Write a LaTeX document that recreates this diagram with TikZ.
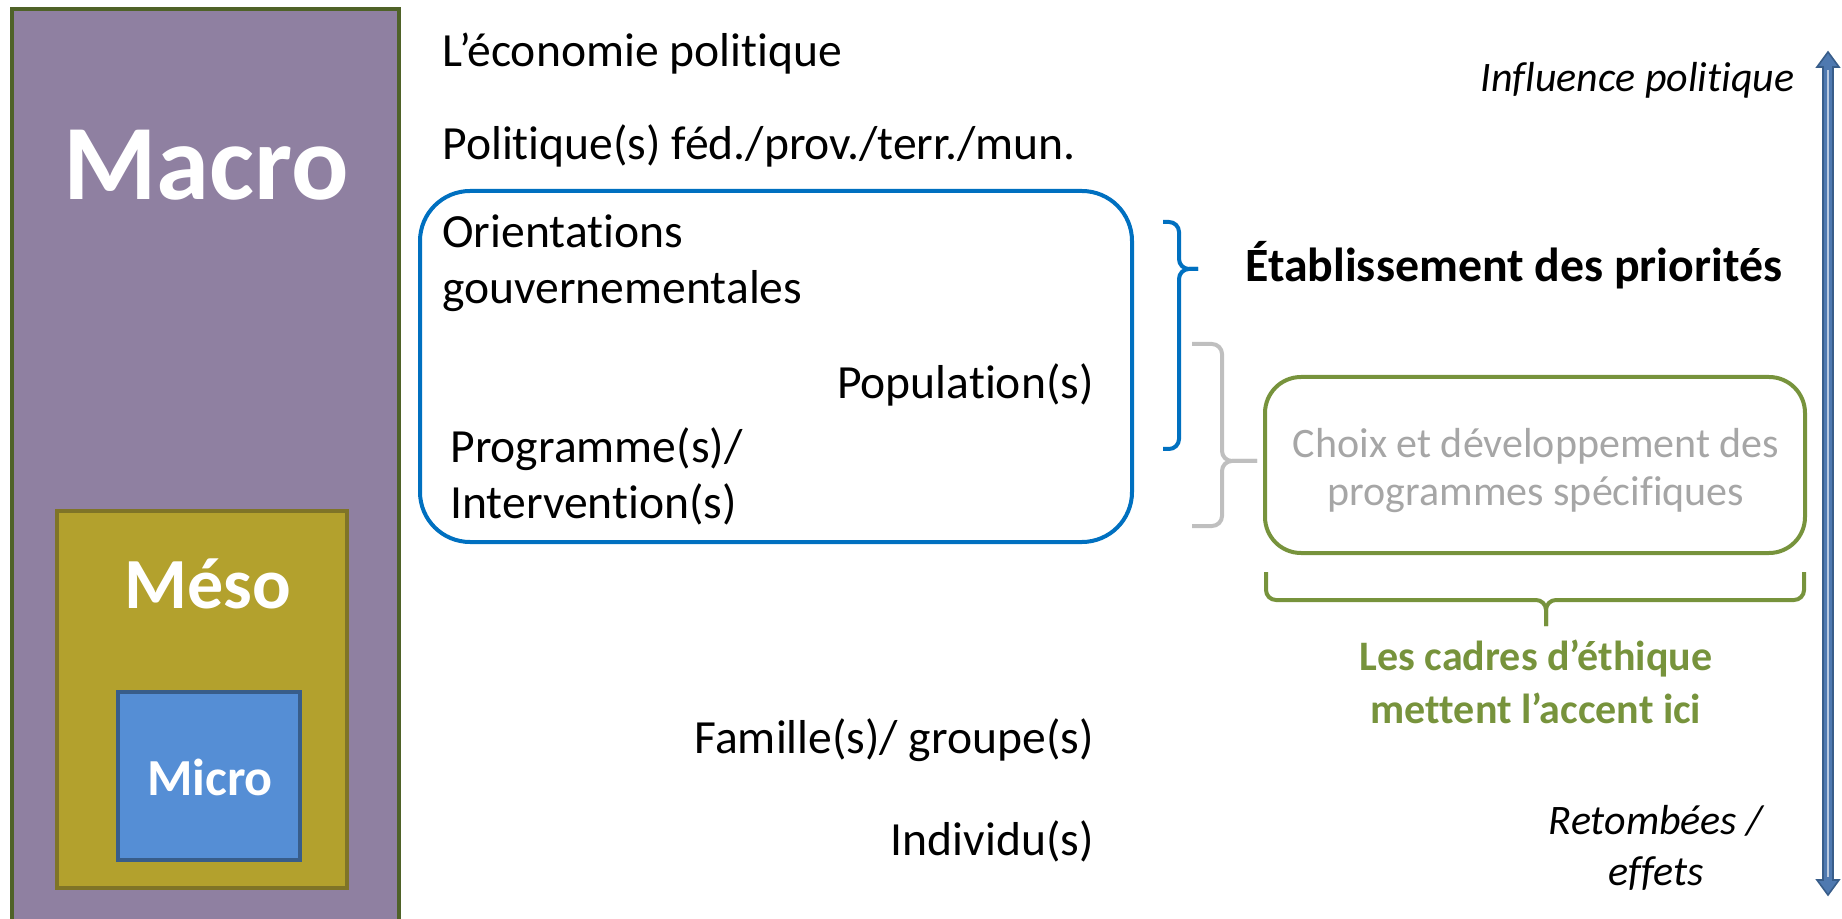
\documentclass[tikz,border=0pt]{standalone}
\usepackage{fontspec}
\setmainfont{Carlito}[Ligatures={NoCommon}]
\usepackage{xcolor}
\usepackage{tikz}
\usetikzlibrary{calc}

\definecolor{macrofill}{HTML}{8F80A1}
\definecolor{macroline}{HTML}{4F6228}
\definecolor{mesofill}{HTML}{B3A12D}
\definecolor{mesoline}{HTML}{7F7427}
\definecolor{microfill}{HTML}{558ED5}
\definecolor{microline}{HTML}{385D8A}
\definecolor{prioblue}{HTML}{0070C0}
\definecolor{ethgreen}{HTML}{77933C}
\definecolor{choixgrey}{HTML}{A6A6A6}
\definecolor{bracegrey}{HTML}{BFBFBF}
\definecolor{arrowblue}{HTML}{4F79B0}

\begin{document}
\begin{tikzpicture}[x=0.5pt,y=-0.5pt,
    txt/.style={inner sep=0pt, font=\fontsize{23.8}{28}\selectfont},
    small/.style={inner sep=0pt, font=\fontsize{21}{24}\selectfont, align=center},
    slant/.style={inner sep=0pt, font=\itshape\fontsize{21}{25.5}\selectfont, align=center},
    bracket/.style={line width=2pt, rounded corners=5pt}]
    \useasboundingbox (0,0) rectangle (1842,919);
    % les trois niveaux
    \draw[line width=2pt, draw=macroline, fill=macrofill] (12,9) rectangle (399,930);
    \draw[line width=2.4pt, draw=mesoline, fill=mesofill] (57,511) rectangle (347,888);
    \draw[line width=2pt, draw=microline, fill=microfill] (118,692) rectangle (300,860);
    \node[anchor=base, text=white, inner sep=0pt, font=\bfseries\fontsize{53.5}{60}\selectfont] (macro) at (206,200) {Macro};
    \node[anchor=base, text=white, inner sep=0pt, font=\bfseries\fontsize{36}{40}\selectfont] (meso) at (208,608) {Méso};
    \node[anchor=base, text=white, inner sep=0pt, font=\bfseries\fontsize{26}{30}\selectfont] (micro) at (210,795) {Micro};

    % colonne du milieu
    \draw[prioblue, line width=2pt, rounded corners=25pt] (420,191) rectangle (1132,542);
    \node[txt, anchor=base west] (econ) at (442,67) {L’économie politique};
    \node[txt, anchor=base west] (polit) at (442,160) {Politique(s) féd./prov./terr./mun.};
    \node[txt, anchor=west, align=left] (orient) at (442,263) {Orientations\\gouvernementales};
    \node[txt, anchor=base east] (popul) at (1094,399) {Population(s)};
    \node[txt, anchor=west, align=left] (progr) at (450,476) {Programme(s)/\\Intervention(s)};
    \node[txt, anchor=base east] (famil) at (1094,753) {Famille(s)/ groupe(s)};
    \node[txt, anchor=base east] (indiv) at (1094,855) {Individu(s)};

    % accolades
    \draw[bracket, prioblue] (1163,222) -- (1179,222) -- (1179,269) -- (1198,269);
    \draw[bracket, prioblue] (1198,269) -- (1179,269) -- (1179,449) -- (1163,449);
    \draw[bracket, bracegrey] (1192,344) -- (1222,344) -- (1222,461) -- (1257,461);
    \draw[bracket, bracegrey] (1257,461) -- (1222,461) -- (1222,526) -- (1192,526);
    \draw[bracket, ethgreen] (1266,572) -- (1266,600) -- (1546,600) -- (1546,626);
    \draw[bracket, ethgreen] (1546,626) -- (1546,600) -- (1804,600) -- (1804,572);

    % colonne de droite
    \node[txt, anchor=base west, font=\bfseries\fontsize{23.9}{28}\selectfont] (prio) at (1245,282) {Établissement des priorités};
    \draw[ethgreen, line width=2pt, rounded corners=18pt] (1265,377) rectangle (1805,553);
    \node[small, text=choixgrey] (choix) at (1536,471) {Choix et développement des\\programmes spécifiques};
    \node[small, text=ethgreen, font=\bfseries\fontsize{21}{26.5}\selectfont] (cadres) at (1536,682) {Les cadres d’éthique\\mettent l’accent ici};
    \node[slant, anchor=base east] (influ) at (1795,92) {Influence politique};
    \node[slant] (retomb) at (1656,848) {Retombées /\\effets};

    % fleche double
    \draw[fill=arrowblue, draw=microline, line width=0.8pt]
      (1828,52) -- (1839,67) -- (1833,67) -- (1833,880) -- (1839,880) -- (1828,895)
      -- (1817,880) -- (1823,880) -- (1823,67) -- (1817,67) -- cycle;
    \draw[white!60!arrowblue, line width=1pt] (1828,70) -- (1828,877);
\end{tikzpicture}
\end{document}
